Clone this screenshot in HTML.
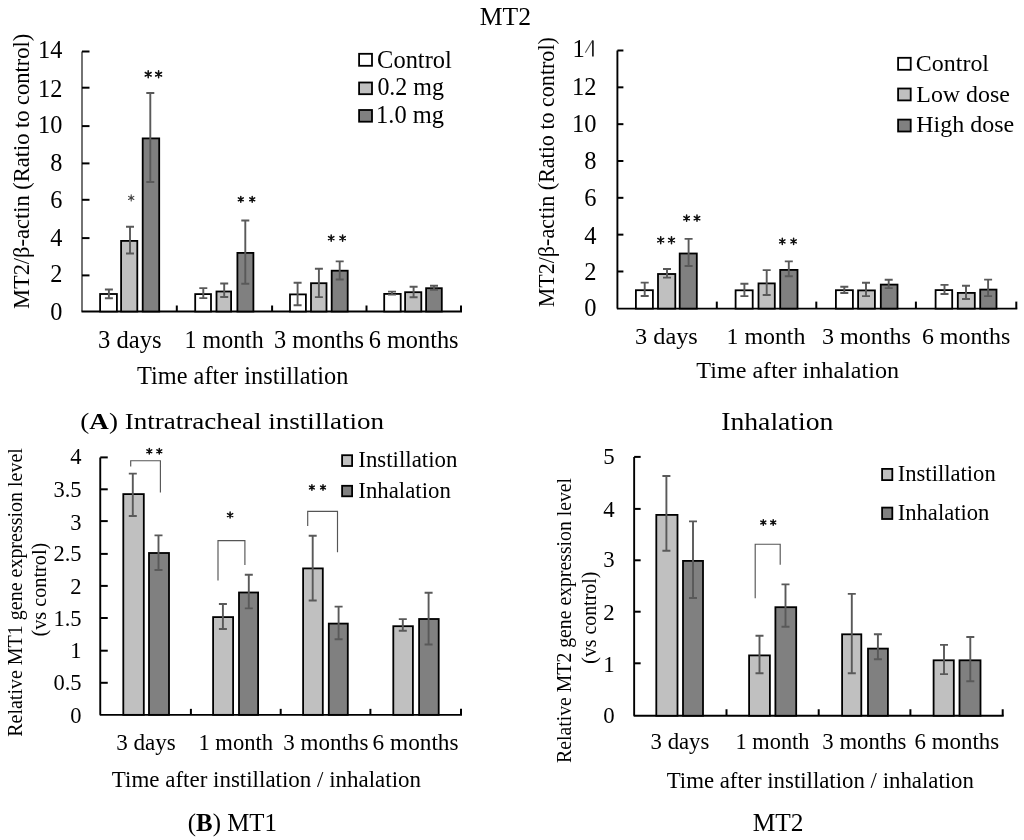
<!DOCTYPE html>
<html><head><meta charset="utf-8"><title>MT figure</title>
<style>html,body{margin:0;padding:0;background:#fff;overflow:hidden;width:1024px;height:840px;} svg{display:block;filter:grayscale(1);} text{font-family:"Liberation Serif",serif;fill:#000;}</style>
</head><body>
<svg width="1024" height="840" viewBox="0 0 1024 840">
<rect width="1024" height="840" fill="#fff"/>
<path d="M82.00 51.50V311.50" stroke="#000" stroke-width="1.1" fill="none"/>
<path d="M82.00 51.50H89.50" stroke="#000" stroke-width="2.0" fill="none"/>
<path d="M82.00 87.70H89.50" stroke="#000" stroke-width="2.0" fill="none"/>
<path d="M82.00 126.10H89.50" stroke="#000" stroke-width="2.0" fill="none"/>
<path d="M82.00 163.40H89.50" stroke="#000" stroke-width="2.0" fill="none"/>
<path d="M82.00 199.80H89.50" stroke="#000" stroke-width="2.0" fill="none"/>
<path d="M82.00 238.10H89.50" stroke="#000" stroke-width="2.0" fill="none"/>
<path d="M82.00 275.40H89.50" stroke="#000" stroke-width="2.0" fill="none"/>
<path d="M81.50 311.50H462.00" stroke="#000" stroke-width="2.0" fill="none"/>
<path d="M176.80 311.50V305.50" stroke="#000" stroke-width="2.0" fill="none"/>
<path d="M272.10 311.50V305.50" stroke="#000" stroke-width="2.0" fill="none"/>
<path d="M366.50 311.50V305.50" stroke="#000" stroke-width="2.0" fill="none"/>
<path d="M461.00 311.50V305.50" stroke="#000" stroke-width="2.0" fill="none"/>
<text x="62.30" y="58.26" font-size="24.3" text-anchor="end">14</text>
<text x="62.30" y="96.61" font-size="24.3" text-anchor="end">12</text>
<text x="62.30" y="133.21" font-size="24.3" text-anchor="end">10</text>
<text x="62.30" y="170.71" font-size="24.3" text-anchor="end">8</text>
<text x="62.30" y="208.21" font-size="24.3" text-anchor="end">6</text>
<text x="62.30" y="245.71" font-size="24.3" text-anchor="end">4</text>
<text x="62.30" y="282.01" font-size="24.3" text-anchor="end">2</text>
<text x="62.30" y="320.46" font-size="24.3" text-anchor="end">0</text>
<rect x="100.10" y="294.00" width="16.80" height="17.50" fill="#fff" stroke="#000" stroke-width="1.8"/>
<rect x="121.10" y="240.90" width="16.20" height="70.60" fill="#c0c0c0" stroke="#000" stroke-width="1.8"/>
<rect x="142.70" y="138.40" width="16.50" height="173.10" fill="#808080" stroke="#000" stroke-width="1.8"/>
<rect x="195.20" y="294.10" width="15.80" height="17.40" fill="#fff" stroke="#000" stroke-width="1.8"/>
<rect x="216.50" y="291.50" width="14.60" height="20.00" fill="#c0c0c0" stroke="#000" stroke-width="1.8"/>
<rect x="237.40" y="252.90" width="16.00" height="58.60" fill="#808080" stroke="#000" stroke-width="1.8"/>
<rect x="290.00" y="294.40" width="15.90" height="17.10" fill="#fff" stroke="#000" stroke-width="1.8"/>
<rect x="311.00" y="283.20" width="15.50" height="28.30" fill="#c0c0c0" stroke="#000" stroke-width="1.8"/>
<rect x="331.70" y="270.70" width="16.00" height="40.80" fill="#808080" stroke="#000" stroke-width="1.8"/>
<rect x="384.20" y="293.90" width="16.50" height="17.60" fill="#fff" stroke="#000" stroke-width="1.8"/>
<rect x="405.10" y="292.20" width="16.20" height="19.30" fill="#c0c0c0" stroke="#000" stroke-width="1.8"/>
<rect x="426.10" y="288.20" width="15.70" height="23.30" fill="#808080" stroke="#000" stroke-width="1.8"/>
<path d="M108.90 289.50V298.20M104.90 289.50H112.90M104.90 298.20H112.90" stroke="#595959" stroke-width="1.9" fill="none"/>
<path d="M130.00 226.70V253.50M126.00 226.70H134.00M126.00 253.50H134.00" stroke="#595959" stroke-width="1.9" fill="none"/>
<path d="M150.30 93.00V182.00M146.30 93.00H154.30M146.30 182.00H154.30" stroke="#595959" stroke-width="1.9" fill="none"/>
<path d="M203.30 288.10V298.10M199.30 288.10H207.30M199.30 298.10H207.30" stroke="#595959" stroke-width="1.9" fill="none"/>
<path d="M224.20 283.50V297.00M220.20 283.50H228.20M220.20 297.00H228.20" stroke="#595959" stroke-width="1.9" fill="none"/>
<path d="M245.30 220.50V283.80M241.30 220.50H249.30M241.30 283.80H249.30" stroke="#595959" stroke-width="1.9" fill="none"/>
<path d="M297.60 282.70V305.30M293.60 282.70H301.60M293.60 305.30H301.60" stroke="#595959" stroke-width="1.9" fill="none"/>
<path d="M318.90 268.80V297.10M314.90 268.80H322.90M314.90 297.10H322.90" stroke="#595959" stroke-width="1.9" fill="none"/>
<path d="M339.70 261.40V279.50M335.70 261.40H343.70M335.70 279.50H343.70" stroke="#595959" stroke-width="1.9" fill="none"/>
<path d="M392.00 291.60V294.60M388.00 291.60H396.00M388.00 294.60H396.00" stroke="#595959" stroke-width="1.9" fill="none"/>
<path d="M413.60 286.70V297.30M409.60 286.70H417.60M409.60 297.30H417.60" stroke="#595959" stroke-width="1.9" fill="none"/>
<path d="M434.00 285.80V289.70M430.00 285.80H438.00M430.00 289.70H438.00" stroke="#595959" stroke-width="1.9" fill="none"/>
<path d="M131.20 194.85V200.95M128.56 196.38L133.84 199.43M128.56 199.43L133.84 196.38" stroke="#444" stroke-width="1.1" stroke-linecap="round" fill="none"/><circle cx="131.20" cy="197.90" r="1.3" fill="#444"/>
<path d="M148.20 70.75V77.75M145.25 72.50L151.15 76.00M145.25 76.00L151.15 72.50" stroke="#111" stroke-width="1.5" stroke-linecap="round" fill="none"/><circle cx="148.20" cy="74.25" r="1.3" fill="#111"/><path d="M158.60 70.75V77.75M155.65 72.50L161.55 76.00M155.65 76.00L161.55 72.50" stroke="#111" stroke-width="1.5" stroke-linecap="round" fill="none"/><circle cx="158.60" cy="74.25" r="1.3" fill="#111"/>
<path d="M240.80 196.45V202.15M238.33 197.88L243.27 200.73M238.33 200.73L243.27 197.88" stroke="#111" stroke-width="1.5" stroke-linecap="round" fill="none"/><circle cx="240.80" cy="199.30" r="1.3" fill="#111"/><path d="M252.20 196.45V202.15M249.73 197.88L254.67 200.73M249.73 200.73L254.67 197.88" stroke="#111" stroke-width="1.5" stroke-linecap="round" fill="none"/><circle cx="252.20" cy="199.30" r="1.3" fill="#111"/>
<path d="M331.20 235.05V241.25M328.52 236.60L333.88 239.70M328.52 239.70L333.88 236.60" stroke="#111" stroke-width="1.5" stroke-linecap="round" fill="none"/><circle cx="331.20" cy="238.15" r="1.3" fill="#111"/><path d="M342.60 235.05V241.25M339.92 236.60L345.28 239.70M339.92 239.70L345.28 236.60" stroke="#111" stroke-width="1.5" stroke-linecap="round" fill="none"/><circle cx="342.60" cy="238.15" r="1.3" fill="#111"/>
<rect x="359.10" y="53.80" width="12.90" height="12.00" fill="#fff" stroke="#000" stroke-width="1.8"/>
<rect x="359.10" y="82.50" width="12.90" height="11.70" fill="#c0c0c0" stroke="#000" stroke-width="1.8"/>
<rect x="359.10" y="110.00" width="12.90" height="11.70" fill="#808080" stroke="#000" stroke-width="1.8"/>
<path d="M617.40 50.50V308.60" stroke="#000" stroke-width="1.9" fill="none"/>
<path d="M617.40 50.50H623.40" stroke="#000" stroke-width="2.0" fill="none"/>
<path d="M617.40 87.33H623.40" stroke="#000" stroke-width="2.0" fill="none"/>
<path d="M617.40 124.16H623.40" stroke="#000" stroke-width="2.0" fill="none"/>
<path d="M617.40 160.99H623.40" stroke="#000" stroke-width="2.0" fill="none"/>
<path d="M617.40 197.82H623.40" stroke="#000" stroke-width="2.0" fill="none"/>
<path d="M617.40 234.65H623.40" stroke="#000" stroke-width="2.0" fill="none"/>
<path d="M617.40 271.48H623.40" stroke="#000" stroke-width="2.0" fill="none"/>
<path d="M616.90 308.60H1017.30" stroke="#000" stroke-width="1.8" fill="none"/>
<path d="M716.80 308.60V301.60" stroke="#000" stroke-width="2.0" fill="none"/>
<path d="M816.30 308.60V301.60" stroke="#000" stroke-width="2.0" fill="none"/>
<path d="M915.90 308.60V301.60" stroke="#000" stroke-width="2.0" fill="none"/>
<path d="M1016.30 308.60V301.60" stroke="#000" stroke-width="2.0" fill="none"/>
<text x="596.60" y="95.28" font-size="24.5" text-anchor="end">12</text>
<text x="596.60" y="132.28" font-size="24.5" text-anchor="end">10</text>
<text x="596.60" y="169.48" font-size="24.5" text-anchor="end">8</text>
<text x="596.60" y="206.08" font-size="24.5" text-anchor="end">6</text>
<text x="596.60" y="243.58" font-size="24.5" text-anchor="end">4</text>
<text x="596.60" y="279.68" font-size="24.5" text-anchor="end">2</text>
<text x="596.60" y="316.43" font-size="24.5" text-anchor="end">0</text>
<text x="572.4" y="57.43" font-size="24.5">1</text>
<path d="M585.6 52.3L592.4 40.8" stroke="#555" stroke-width="1.1" stroke-linecap="round" fill="none"/><path d="M592.9 40.6V56.6" stroke="#1a1a1a" stroke-width="1.7" fill="none"/>
<rect x="635.90" y="290.20" width="17.00" height="18.40" fill="#fff" stroke="#000" stroke-width="1.8"/>
<rect x="658.00" y="274.00" width="17.30" height="34.60" fill="#c0c0c0" stroke="#000" stroke-width="1.8"/>
<rect x="679.70" y="253.50" width="17.10" height="55.10" fill="#808080" stroke="#000" stroke-width="1.8"/>
<rect x="735.60" y="290.30" width="17.10" height="18.30" fill="#fff" stroke="#000" stroke-width="1.8"/>
<rect x="758.50" y="283.40" width="16.30" height="25.20" fill="#c0c0c0" stroke="#000" stroke-width="1.8"/>
<rect x="780.20" y="269.90" width="17.30" height="38.70" fill="#808080" stroke="#000" stroke-width="1.8"/>
<rect x="835.90" y="290.20" width="17.00" height="18.40" fill="#fff" stroke="#000" stroke-width="1.8"/>
<rect x="858.10" y="290.40" width="16.80" height="18.20" fill="#c0c0c0" stroke="#000" stroke-width="1.8"/>
<rect x="880.80" y="284.60" width="16.70" height="24.00" fill="#808080" stroke="#000" stroke-width="1.8"/>
<rect x="935.60" y="290.10" width="16.60" height="18.50" fill="#fff" stroke="#000" stroke-width="1.8"/>
<rect x="957.80" y="292.90" width="17.00" height="15.70" fill="#c0c0c0" stroke="#000" stroke-width="1.8"/>
<rect x="980.20" y="289.60" width="16.30" height="19.00" fill="#808080" stroke="#000" stroke-width="1.8"/>
<path d="M644.70 282.60V296.00M640.70 282.60H648.70M640.70 296.00H648.70" stroke="#595959" stroke-width="1.9" fill="none"/>
<path d="M667.00 269.00V277.60M663.00 269.00H671.00M663.00 277.60H671.00" stroke="#595959" stroke-width="1.9" fill="none"/>
<path d="M688.60 238.90V266.00M684.60 238.90H692.60M684.60 266.00H692.60" stroke="#595959" stroke-width="1.9" fill="none"/>
<path d="M744.40 283.70V296.10M740.40 283.70H748.40M740.40 296.10H748.40" stroke="#595959" stroke-width="1.9" fill="none"/>
<path d="M766.70 270.10V295.00M762.70 270.10H770.70M762.70 295.00H770.70" stroke="#595959" stroke-width="1.9" fill="none"/>
<path d="M788.80 261.40V276.30M784.80 261.40H792.80M784.80 276.30H792.80" stroke="#595959" stroke-width="1.9" fill="none"/>
<path d="M844.30 286.80V293.00M840.30 286.80H848.30M840.30 293.00H848.30" stroke="#595959" stroke-width="1.9" fill="none"/>
<path d="M866.00 282.70V296.10M862.00 282.70H870.00M862.00 296.10H870.00" stroke="#595959" stroke-width="1.9" fill="none"/>
<path d="M888.70 279.80V288.10M884.70 279.80H892.70M884.70 288.10H892.70" stroke="#595959" stroke-width="1.9" fill="none"/>
<path d="M944.50 284.90V294.00M940.50 284.90H948.50M940.50 294.00H948.50" stroke="#595959" stroke-width="1.9" fill="none"/>
<path d="M966.00 285.80V299.00M962.00 285.80H970.00M962.00 299.00H970.00" stroke="#595959" stroke-width="1.9" fill="none"/>
<path d="M988.10 279.60V296.10M984.10 279.60H992.10M984.10 296.10H992.10" stroke="#595959" stroke-width="1.9" fill="none"/>
<path d="M660.70 236.65V243.75M657.75 238.42L663.65 241.97M657.75 241.97L663.65 238.42" stroke="#111" stroke-width="1.5" stroke-linecap="round" fill="none"/><circle cx="660.70" cy="240.20" r="1.3" fill="#111"/><path d="M671.50 236.65V243.75M668.55 238.42L674.45 241.97M668.55 241.97L674.45 238.42" stroke="#111" stroke-width="1.5" stroke-linecap="round" fill="none"/><circle cx="671.50" cy="240.20" r="1.3" fill="#111"/>
<path d="M686.60 215.05V221.35M683.87 216.62L689.33 219.77M683.87 219.77L689.33 216.62" stroke="#111" stroke-width="1.5" stroke-linecap="round" fill="none"/><circle cx="686.60" cy="218.20" r="1.3" fill="#111"/><path d="M697.00 215.05V221.35M694.27 216.62L699.73 219.77M694.27 219.77L699.73 216.62" stroke="#111" stroke-width="1.5" stroke-linecap="round" fill="none"/><circle cx="697.00" cy="218.20" r="1.3" fill="#111"/>
<path d="M782.30 238.35V244.45M779.66 239.87L784.94 242.92M779.66 242.92L784.94 239.87" stroke="#111" stroke-width="1.5" stroke-linecap="round" fill="none"/><circle cx="782.30" cy="241.40" r="1.3" fill="#111"/><path d="M793.60 238.35V244.45M790.96 239.87L796.24 242.92M790.96 242.92L796.24 239.87" stroke="#111" stroke-width="1.5" stroke-linecap="round" fill="none"/><circle cx="793.60" cy="241.40" r="1.3" fill="#111"/>
<rect x="898.10" y="57.80" width="12.60" height="12.00" fill="#fff" stroke="#000" stroke-width="1.8"/>
<rect x="898.10" y="88.50" width="12.60" height="11.90" fill="#c0c0c0" stroke="#000" stroke-width="1.8"/>
<rect x="898.10" y="119.60" width="12.60" height="11.90" fill="#808080" stroke="#000" stroke-width="1.8"/>
<path d="M100.25 457.40V714.85" stroke="#000" stroke-width="1.9" fill="none"/>
<path d="M100.25 457.40H107.75" stroke="#000" stroke-width="2.0" fill="none"/>
<path d="M100.25 489.30H107.75" stroke="#000" stroke-width="2.0" fill="none"/>
<path d="M100.25 521.10H107.75" stroke="#000" stroke-width="2.0" fill="none"/>
<path d="M100.25 553.90H107.75" stroke="#000" stroke-width="2.0" fill="none"/>
<path d="M100.25 585.90H107.75" stroke="#000" stroke-width="2.0" fill="none"/>
<path d="M100.25 618.00H107.75" stroke="#000" stroke-width="2.0" fill="none"/>
<path d="M100.25 650.70H107.75" stroke="#000" stroke-width="2.0" fill="none"/>
<path d="M100.25 682.80H107.75" stroke="#000" stroke-width="2.0" fill="none"/>
<path d="M99.75 714.85H462.00" stroke="#000" stroke-width="1.9" fill="none"/>
<path d="M190.90 714.85V708.85" stroke="#000" stroke-width="2.0" fill="none"/>
<path d="M280.70 714.85V708.85" stroke="#000" stroke-width="2.0" fill="none"/>
<path d="M370.40 714.85V708.85" stroke="#000" stroke-width="2.0" fill="none"/>
<path d="M461.00 714.85V708.85" stroke="#000" stroke-width="2.0" fill="none"/>
<text x="81.60" y="464.35" font-size="22.5" text-anchor="end">4</text>
<text x="81.60" y="496.95" font-size="22.5" text-anchor="end">3.5</text>
<text x="81.60" y="529.55" font-size="22.5" text-anchor="end">3</text>
<text x="81.60" y="561.25" font-size="22.5" text-anchor="end">2.5</text>
<text x="81.60" y="594.15" font-size="22.5" text-anchor="end">2</text>
<text x="81.60" y="625.90" font-size="22.5" text-anchor="end">1.5</text>
<text x="81.60" y="658.45" font-size="22.5" text-anchor="end">1</text>
<text x="81.60" y="690.25" font-size="22.5" text-anchor="end">0.5</text>
<text x="81.60" y="723.05" font-size="22.5" text-anchor="end">0</text>
<rect x="123.30" y="494.10" width="20.50" height="220.75" fill="#c0c0c0" stroke="#000" stroke-width="1.8"/>
<rect x="149.00" y="553.00" width="20.00" height="161.85" fill="#808080" stroke="#000" stroke-width="1.8"/>
<rect x="213.10" y="617.10" width="20.00" height="97.75" fill="#c0c0c0" stroke="#000" stroke-width="1.8"/>
<rect x="239.00" y="592.50" width="19.10" height="122.35" fill="#808080" stroke="#000" stroke-width="1.8"/>
<rect x="303.10" y="568.40" width="19.70" height="146.45" fill="#c0c0c0" stroke="#000" stroke-width="1.8"/>
<rect x="328.80" y="623.60" width="19.00" height="91.25" fill="#808080" stroke="#000" stroke-width="1.8"/>
<rect x="393.30" y="626.20" width="19.60" height="88.65" fill="#c0c0c0" stroke="#000" stroke-width="1.8"/>
<rect x="419.10" y="619.00" width="19.60" height="95.85" fill="#808080" stroke="#000" stroke-width="1.8"/>
<path d="M132.80 473.60V516.00M128.80 473.60H136.80M128.80 516.00H136.80" stroke="#595959" stroke-width="1.9" fill="none"/>
<path d="M158.50 535.40V570.00M154.50 535.40H162.50M154.50 570.00H162.50" stroke="#595959" stroke-width="1.9" fill="none"/>
<path d="M222.90 604.00V629.00M218.90 604.00H226.90M218.90 629.00H226.90" stroke="#595959" stroke-width="1.9" fill="none"/>
<path d="M248.80 574.80V608.40M244.80 574.80H252.80M244.80 608.40H252.80" stroke="#595959" stroke-width="1.9" fill="none"/>
<path d="M312.70 535.70V600.50M308.70 535.70H316.70M308.70 600.50H316.70" stroke="#595959" stroke-width="1.9" fill="none"/>
<path d="M338.60 606.60V639.20M334.60 606.60H342.60M334.60 639.20H342.60" stroke="#595959" stroke-width="1.9" fill="none"/>
<path d="M402.80 619.10V630.80M398.80 619.10H406.80M398.80 630.80H406.80" stroke="#595959" stroke-width="1.9" fill="none"/>
<path d="M428.60 592.70V644.50M424.60 592.70H432.60M424.60 644.50H432.60" stroke="#595959" stroke-width="1.9" fill="none"/>
<path d="M130.70 466.40V460.70H160.40V492.60" stroke="#555555" stroke-width="1.15" fill="none"/>
<path d="M218.00 580.50V540.60H244.90V565.00" stroke="#555555" stroke-width="1.15" fill="none"/>
<path d="M307.70 526.10V511.30H337.50V552.30" stroke="#555555" stroke-width="1.15" fill="none"/>
<path d="M149.30 448.45V454.05M146.88 449.85L151.72 452.65M146.88 452.65L151.72 449.85" stroke="#111" stroke-width="1.5" stroke-linecap="round" fill="none"/><circle cx="149.30" cy="451.25" r="1.3" fill="#111"/><path d="M159.30 448.45V454.05M156.88 449.85L161.72 452.65M156.88 452.65L161.72 449.85" stroke="#111" stroke-width="1.5" stroke-linecap="round" fill="none"/><circle cx="159.30" cy="451.25" r="1.3" fill="#111"/>
<path d="M230.10 512.05V518.05M227.50 513.55L232.70 516.55M227.50 516.55L232.70 513.55" stroke="#111" stroke-width="1.5" stroke-linecap="round" fill="none"/><circle cx="230.10" cy="515.05" r="1.3" fill="#111"/>
<path d="M311.90 484.75V490.25M309.52 486.12L314.28 488.88M309.52 488.88L314.28 486.12" stroke="#111" stroke-width="1.5" stroke-linecap="round" fill="none"/><circle cx="311.90" cy="487.50" r="1.3" fill="#111"/><path d="M323.00 484.75V490.25M320.62 486.12L325.38 488.88M320.62 488.88L325.38 486.12" stroke="#111" stroke-width="1.5" stroke-linecap="round" fill="none"/><circle cx="323.00" cy="487.50" r="1.3" fill="#111"/>
<rect x="342.10" y="455.20" width="10.00" height="10.80" fill="#c0c0c0" stroke="#000" stroke-width="1.8"/>
<rect x="342.10" y="485.80" width="10.00" height="10.50" fill="#808080" stroke="#000" stroke-width="1.8"/>
<path d="M634.15 456.90V715.75" stroke="#000" stroke-width="1.9" fill="none"/>
<path d="M634.15 456.90H640.65" stroke="#000" stroke-width="2.0" fill="none"/>
<path d="M634.15 508.90H640.65" stroke="#000" stroke-width="2.0" fill="none"/>
<path d="M634.15 560.30H640.65" stroke="#000" stroke-width="2.0" fill="none"/>
<path d="M634.15 611.70H640.65" stroke="#000" stroke-width="2.0" fill="none"/>
<path d="M634.15 663.30H640.65" stroke="#000" stroke-width="2.0" fill="none"/>
<path d="M633.65 715.75H1003.70" stroke="#000" stroke-width="1.9" fill="none"/>
<path d="M726.50 715.75V709.25" stroke="#000" stroke-width="2.0" fill="none"/>
<path d="M818.70 715.75V709.25" stroke="#000" stroke-width="2.0" fill="none"/>
<path d="M910.40 715.75V709.25" stroke="#000" stroke-width="2.0" fill="none"/>
<path d="M1002.70 715.75V709.25" stroke="#000" stroke-width="2.0" fill="none"/>
<text x="614.60" y="463.76" font-size="22.8" text-anchor="end">5</text>
<text x="614.60" y="516.71" font-size="22.8" text-anchor="end">4</text>
<text x="614.60" y="566.96" font-size="22.8" text-anchor="end">3</text>
<text x="614.60" y="619.81" font-size="22.8" text-anchor="end">2</text>
<text x="614.60" y="671.51" font-size="22.8" text-anchor="end">1</text>
<text x="614.60" y="722.91" font-size="22.8" text-anchor="end">0</text>
<rect x="656.30" y="514.90" width="21.20" height="200.85" fill="#c0c0c0" stroke="#000" stroke-width="1.8"/>
<rect x="683.00" y="560.90" width="20.00" height="154.85" fill="#808080" stroke="#000" stroke-width="1.8"/>
<rect x="749.10" y="655.40" width="20.80" height="60.35" fill="#c0c0c0" stroke="#000" stroke-width="1.8"/>
<rect x="775.40" y="607.20" width="20.80" height="108.55" fill="#808080" stroke="#000" stroke-width="1.8"/>
<rect x="842.10" y="634.30" width="19.20" height="81.45" fill="#c0c0c0" stroke="#000" stroke-width="1.8"/>
<rect x="868.00" y="648.60" width="19.90" height="67.15" fill="#808080" stroke="#000" stroke-width="1.8"/>
<rect x="933.60" y="660.30" width="20.20" height="55.45" fill="#c0c0c0" stroke="#000" stroke-width="1.8"/>
<rect x="959.50" y="660.30" width="21.00" height="55.45" fill="#808080" stroke="#000" stroke-width="1.8"/>
<path d="M666.40 476.00V550.70M662.40 476.00H670.40M662.40 550.70H670.40" stroke="#595959" stroke-width="1.9" fill="none"/>
<path d="M693.00 521.40V598.00M689.00 521.40H697.00M689.00 598.00H697.00" stroke="#595959" stroke-width="1.9" fill="none"/>
<path d="M759.50 635.80V673.30M755.50 635.80H763.50M755.50 673.30H763.50" stroke="#595959" stroke-width="1.9" fill="none"/>
<path d="M785.50 584.40V626.80M781.50 584.40H789.50M781.50 626.80H789.50" stroke="#595959" stroke-width="1.9" fill="none"/>
<path d="M851.80 593.90V673.20M847.80 593.90H855.80M847.80 673.20H855.80" stroke="#595959" stroke-width="1.9" fill="none"/>
<path d="M877.90 634.20V659.20M873.90 634.20H881.90M873.90 659.20H881.90" stroke="#595959" stroke-width="1.9" fill="none"/>
<path d="M944.00 644.90V674.10M940.00 644.90H948.00M940.00 674.10H948.00" stroke="#595959" stroke-width="1.9" fill="none"/>
<path d="M970.30 637.00V681.30M966.30 637.00H974.30M966.30 681.30H974.30" stroke="#595959" stroke-width="1.9" fill="none"/>
<path d="M755.20 598.30V544.20H780.20V564.80" stroke="#555555" stroke-width="1.15" fill="none"/>
<path d="M763.30 519.65V525.35M760.83 521.08L765.77 523.92M760.83 523.92L765.77 521.08" stroke="#111" stroke-width="1.5" stroke-linecap="round" fill="none"/><circle cx="763.30" cy="522.50" r="1.3" fill="#111"/><path d="M773.20 519.65V525.35M770.73 521.08L775.67 523.92M770.73 523.92L775.67 521.08" stroke="#111" stroke-width="1.5" stroke-linecap="round" fill="none"/><circle cx="773.20" cy="522.50" r="1.3" fill="#111"/>
<rect x="882.10" y="468.90" width="10.20" height="11.20" fill="#c0c0c0" stroke="#000" stroke-width="1.8"/>
<rect x="882.10" y="507.60" width="10.20" height="11.40" fill="#808080" stroke="#000" stroke-width="1.8"/>
<text x="479.79" y="25.00" font-size="24.8" textLength="51.30" lengthAdjust="spacingAndGlyphs">MT2</text>
<text x="80.32" y="429.00" font-size="24.0" textLength="303.75" lengthAdjust="spacingAndGlyphs">(<tspan font-weight="bold">A</tspan>) Intratracheal instillation</text>
<text x="721.17" y="429.90" font-size="24.5" textLength="112.31" lengthAdjust="spacingAndGlyphs">Inhalation</text>
<text x="187.81" y="830.50" font-size="25.0" textLength="89.09" lengthAdjust="spacingAndGlyphs">(<tspan font-weight="bold">B</tspan>) MT1</text>
<text x="752.79" y="830.90" font-size="24.5" textLength="50.78" lengthAdjust="spacingAndGlyphs">MT2</text>
<text x="97.91" y="347.80" font-size="24.3" textLength="63.71" lengthAdjust="spacingAndGlyphs">3 days</text>
<text x="184.58" y="347.80" font-size="24.3" textLength="79.16" lengthAdjust="spacingAndGlyphs">1 month</text>
<text x="273.92" y="347.80" font-size="24.3" textLength="90.19" lengthAdjust="spacingAndGlyphs">3 months</text>
<text x="368.63" y="347.80" font-size="24.3" textLength="89.98" lengthAdjust="spacingAndGlyphs">6 months</text>
<text x="137.06" y="384.00" font-size="24.3" textLength="211.29" lengthAdjust="spacingAndGlyphs">Time after instillation</text>
<text transform="translate(29.20,309.05) rotate(-90)" x="0" y="0" font-size="23.0" textLength="275.21" lengthAdjust="spacingAndGlyphs">MT2/β-actin (Ratio to control)</text>
<text x="635.03" y="343.90" font-size="24.0" textLength="62.78" lengthAdjust="spacingAndGlyphs">3 days</text>
<text x="726.49" y="343.90" font-size="24.0" textLength="78.95" lengthAdjust="spacingAndGlyphs">1 month</text>
<text x="822.04" y="343.90" font-size="24.0" textLength="88.97" lengthAdjust="spacingAndGlyphs">3 months</text>
<text x="921.94" y="343.90" font-size="24.0" textLength="88.35" lengthAdjust="spacingAndGlyphs">6 months</text>
<text x="696.36" y="377.90" font-size="24.0" textLength="202.68" lengthAdjust="spacingAndGlyphs">Time after inhalation</text>
<text transform="translate(553.60,307.34) rotate(-90)" x="0" y="0" font-size="22.5" textLength="270.19" lengthAdjust="spacingAndGlyphs">MT2/β-actin (Ratio to control)</text>
<text x="116.18" y="749.70" font-size="23.0" textLength="59.70" lengthAdjust="spacingAndGlyphs">3 days</text>
<text x="198.39" y="749.70" font-size="23.0" textLength="74.73" lengthAdjust="spacingAndGlyphs">1 month</text>
<text x="283.18" y="749.70" font-size="23.0" textLength="85.19" lengthAdjust="spacingAndGlyphs">3 months</text>
<text x="372.57" y="749.70" font-size="23.0" textLength="86.01" lengthAdjust="spacingAndGlyphs">6 months</text>
<text x="111.87" y="786.80" font-size="23.0" textLength="309.16" lengthAdjust="spacingAndGlyphs">Time after instillation / inhalation</text>
<text transform="translate(22.40,736.80) rotate(-90)" x="0" y="0" font-size="21.0" textLength="288.66" lengthAdjust="spacingAndGlyphs">Relative MT1 gene expression level</text>
<text transform="translate(46.40,636.51) rotate(-90)" x="0" y="0" font-size="21.0" textLength="93.78" lengthAdjust="spacingAndGlyphs">(vs control)</text>
<text x="650.59" y="748.80" font-size="22.7" textLength="58.77" lengthAdjust="spacingAndGlyphs">3 days</text>
<text x="735.61" y="748.80" font-size="22.7" textLength="73.81" lengthAdjust="spacingAndGlyphs">1 month</text>
<text x="822.39" y="748.80" font-size="22.7" textLength="83.97" lengthAdjust="spacingAndGlyphs">3 months</text>
<text x="914.58" y="748.80" font-size="22.7" textLength="84.58" lengthAdjust="spacingAndGlyphs">6 months</text>
<text x="666.67" y="788.30" font-size="22.7" textLength="307.26" lengthAdjust="spacingAndGlyphs">Time after instillation / inhalation</text>
<text transform="translate(571.40,762.89) rotate(-90)" x="0" y="0" font-size="20.8" textLength="284.95" lengthAdjust="spacingAndGlyphs">Relative MT2 gene expression level</text>
<text transform="translate(595.70,663.69) rotate(-90)" x="0" y="0" font-size="20.8" textLength="91.95" lengthAdjust="spacingAndGlyphs">(vs control)</text>
<text x="377.12" y="68.10" font-size="24.4" textLength="74.71" lengthAdjust="spacingAndGlyphs">Control</text>
<text x="377.38" y="95.10" font-size="24.4" textLength="66.66" lengthAdjust="spacingAndGlyphs">0.2 mg</text>
<text x="376.14" y="122.60" font-size="24.4" textLength="67.90" lengthAdjust="spacingAndGlyphs">1.0 mg</text>
<text x="915.84" y="70.70" font-size="24.0" textLength="73.19" lengthAdjust="spacingAndGlyphs">Control</text>
<text x="916.32" y="101.90" font-size="24.0" textLength="93.59" lengthAdjust="spacingAndGlyphs">Low dose</text>
<text x="916.32" y="132.10" font-size="24.0" textLength="97.79" lengthAdjust="spacingAndGlyphs">High dose</text>
<text x="358.31" y="466.90" font-size="22.8" textLength="99.11" lengthAdjust="spacingAndGlyphs">Instillation</text>
<text x="358.32" y="497.60" font-size="22.8" textLength="92.51" lengthAdjust="spacingAndGlyphs">Inhalation</text>
<text x="897.72" y="481.00" font-size="22.6" textLength="98.00" lengthAdjust="spacingAndGlyphs">Instillation</text>
<text x="897.72" y="520.00" font-size="22.6" textLength="91.70" lengthAdjust="spacingAndGlyphs">Inhalation</text>
</svg>
</body></html>
